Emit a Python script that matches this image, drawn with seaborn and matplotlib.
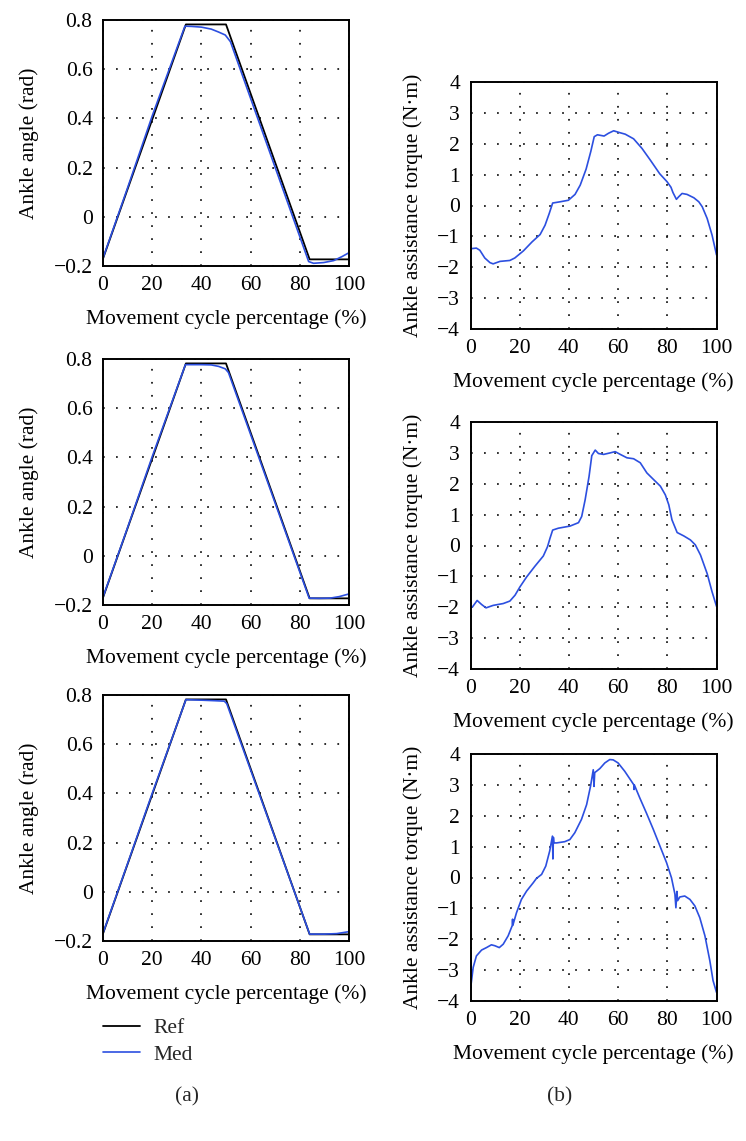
import numpy as np
import pandas as pd
import matplotlib
matplotlib.use("Agg")
import matplotlib.pyplot as plt
import seaborn as sns

# ---------------- data ----------------
x_ticks = [0, 20, 40, 60, 80, 100]
x_tick_labels = ["0", "20", "40", "60", "80", "100"]
angle_ticks = [-0.2, 0, 0.2, 0.4, 0.6, 0.8]
angle_tick_labels = ["\u22120.2", "0", "0.2", "0.4", "0.6", "0.8"]
torque_ticks = [-4, -3, -2, -1, 0, 1, 2, 3, 4]
torque_tick_labels = ["\u22124", "\u22123", "\u22122", "\u22121", "0", "1", "2", "3", "4"]

ref_x = [0, 33.7, 50, 84, 100]
ref_y = [-0.17, 0.782, 0.782, -0.173, -0.173]

med1_x = [0, 10, 20, 33.3, 36, 40, 44, 47, 49.7, 51.8, 83.6, 85.6, 89.7, 93.8, 97.1, 100]
med1_y = [-0.168, 0.118, 0.41, 0.775, 0.774, 0.771, 0.763, 0.751, 0.739, 0.712,
          -0.182, -0.189, -0.186, -0.178, -0.162, -0.146]

med2_x = [0, 10, 20, 33.5, 40, 44, 47, 49.7, 51, 83.8, 88, 92.4, 96, 100]
med2_y = [-0.168, 0.115, 0.403, 0.777, 0.777, 0.776, 0.77, 0.76, 0.745,
          -0.172, -0.173, -0.172, -0.166, -0.155]

med3_x = [0, 10, 20, 33.7, 40, 45, 49.3, 50.3, 84, 90, 95, 100]
med3_y = [-0.168, 0.115, 0.40, 0.781, 0.779, 0.777, 0.775, 0.765, -0.172, -0.172, -0.17, -0.162]

tq1_x = [0, 2.4, 3.8, 5.8, 7.9, 9.2, 12, 16, 18, 21.5, 25, 28.3, 30.3, 32, 33.4, 36.4,
         39.8, 42.5, 44.6, 47, 48.9, 50.3, 51.6, 54.3, 56.1, 58.2, 60.2, 62.9, 66.3,
         69.7, 73.1, 76.9, 79.9, 81.5, 82.3, 83.7, 84.6, 86, 88, 90.8, 92.8, 94.2,
         96.2, 98.2, 100]
tq1_y = [-1.40, -1.38, -1.45, -1.70, -1.85, -1.89, -1.81, -1.78, -1.70, -1.47, -1.18,
         -0.94, -0.64, -0.26, 0.08, 0.12, 0.17, 0.36, 0.66, 1.18, 1.75, 2.23, 2.29,
         2.25, 2.34, 2.42, 2.37, 2.31, 2.16, 1.85, 1.47, 1.03, 0.77, 0.59, 0.42, 0.20,
         0.28, 0.39, 0.36, 0.25, 0.12, -0.04, -0.42, -0.96, -1.60]

tq2_x = [0, 0.8, 2.7, 4.5, 6.3, 9.2, 13.3, 16, 18.1, 20.1, 22.8, 26.2, 29.6, 31.3,
         32.3, 33.4, 35.7, 40.5, 43.9, 45.2, 46.6, 48.2, 49.3, 50.7, 52, 54.1, 56.8,
         58.8, 60.9, 63.6, 66.3, 69, 71.7, 74.5, 77.2, 79.2, 80.6, 81.9, 84, 86.7,
         89.4, 91.4, 93.5, 96.2, 98.2, 100]
tq2_y = [-1.97, -1.99, -1.78, -1.91, -2.02, -1.94, -1.88, -1.80, -1.61, -1.34, -1.02,
         -0.67, -0.34, -0.04, 0.23, 0.50, 0.56, 0.63, 0.74, 0.94, 1.48, 2.24, 2.91,
         3.09, 2.98, 2.95, 3.00, 3.04, 2.95, 2.84, 2.81, 2.68, 2.35, 2.13, 1.92, 1.64,
         1.32, 0.83, 0.42, 0.31, 0.18, 0.02, -0.31, -0.91, -1.50, -1.97]

tq3_x = [0, 0.05, 0.1, 1.1, 2.4, 4.5, 6.5, 8.5, 9.9, 11.7, 13.3, 15.3, 17.0, 17.1, 17.2,
         18.7, 20.7, 22.8, 25.5, 26.8, 28.9, 30.6, 32.2, 33.3, 33.5, 33.7, 33.9, 35,
         38.3, 40.4, 42.4, 45.1, 47.2, 48.8, 49.9, 50.2, 50.5, 51.2, 52.6, 54.6,
         56.6, 58, 60, 62.7, 65.4, 66.4, 66.5, 66.6, 68.8, 71.5, 74.3, 77, 79.7,
         81.7, 83.1, 83.5, 83.9, 84.2, 85.1, 87.1, 89.2, 91.2, 93.2, 95.3, 97.3,
         98.6, 100]
tq3_y = [-3.67, -2.43, -3.55, -2.91, -2.54, -2.35, -2.27, -2.18, -2.21, -2.27, -2.16,
         -1.89, -1.55, -1.35, -1.55, -1.14, -0.71, -0.44, -0.17, -0.03, 0.10, 0.37,
         0.86, 1.34, 0.60, 1.30, 1.12, 1.12, 1.16, 1.23, 1.45, 1.88, 2.36, 2.96,
         3.49, 2.95, 3.40, 3.44, 3.53, 3.71, 3.82, 3.81, 3.71, 3.44, 3.12, 3.0,
         2.85, 3.0, 2.58, 2.09, 1.56, 1.02, 0.48, -0.01, -0.54, -0.98, -0.45,
         -0.75, -0.63, -0.60, -0.71, -0.92, -1.30, -1.89, -2.70, -3.34, -3.72]

panel_a_label = "(a)"
panel_b_label = "(b)"
xlabel_text = "Movement cycle percentage (%)"
angle_ylabel = "Ankle angle (rad)"
torque_ylabel = "Ankle assistance torque (N\u00b7m)"
series_names = ["Ref", "Med"]

# ---------------- style ----------------
sns.set_theme(style="white")
plt.rcParams["font.family"] = ["Liberation Serif", "DejaVu Serif"]
plt.rcParams["axes.unicode_minus"] = True

W, H = 746, 1141
fig = plt.figure(figsize=(W / 100, H / 100), dpi=100)

FS = 15.5
REF_C = "black"
MED_C = "#2c4fe0"


def add_ax(left, top, width, height):
    return fig.add_axes([left / W, 1 - (top + height) / H, width / W, height / H])


def style_ax(ax, yticks, ylabels, ylim, ylab, ylab_x):
    ax.set_xlim(0, 100)
    ax.set_ylim(*ylim)
    ax.set_xticks(x_ticks)
    ax.set_xticklabels(x_tick_labels)
    ax.set_yticks(yticks)
    ax.set_yticklabels(ylabels)
    ax.tick_params(axis="both", length=0, labelsize=FS, pad=7.5, colors="black")
    ax.grid(True, color="#111111", linestyle=(0, (1, 6.5)), linewidth=1.25)
    for s in ax.spines.values():
        s.set_visible(True)
        s.set_color("black")
        s.set_linewidth(1.4)
    ax.set_xlabel(xlabel_text, fontsize=FS, color="black")
    ax.set_ylabel(ylab, fontsize=FS, color="black")
    ax.xaxis.set_label_coords(0.5, -0.175)
    ax.xaxis.label.set_va("top")
    ax.yaxis.set_label_coords(ylab_x, 0.5)
    ax.set_facecolor("white")


left_tops = [20, 359, 695]
right_tops = [82, 422, 754]
meds = [(med1_x, med1_y), (med2_x, med2_y), (med3_x, med3_y)]
torques = [(tq1_x, tq1_y), (tq2_x, tq2_y), (tq3_x, tq3_y)]

last_left = None
for i in range(3):
    ax = add_ax(103, left_tops[i], 246, 246)
    sns.lineplot(x=ref_x, y=ref_y, ax=ax, color=REF_C, linewidth=1.3,
                 sort=False, estimator=None, label=series_names[0], legend=False)
    mx, my = meds[i]
    sns.lineplot(x=mx, y=my, ax=ax, color=MED_C, linewidth=1.2,
                 sort=False, estimator=None, label=series_names[1], legend=False)
    style_ax(ax, angle_ticks, angle_tick_labels, (-0.2, 0.8), angle_ylabel, -0.26)
    last_left = ax

    axr = add_ax(470.5, right_tops[i], 246, 247)
    tx, ty = torques[i]
    sns.lineplot(x=tx, y=ty, ax=axr, color=MED_C, linewidth=1.2,
                 sort=False, estimator=None, legend=False)
    style_ax(axr, torque_ticks, torque_tick_labels, (-4, 4), torque_ylabel, -0.195)

handles = last_left.get_lines()[:2]
fig.legend(handles, series_names, loc="upper left",
           bbox_to_anchor=(103 / W, 1 - 1018 / H), frameon=False,
           fontsize=FS, handlelength=1.7, handletextpad=0.65,
           labelspacing=0.3, borderpad=0, borderaxespad=0)

fig.text(187 / W, 1 - 1097 / H, panel_a_label, ha="center", va="center", fontsize=FS)
fig.text(560 / W, 1 - 1097 / H, panel_b_label, ha="center", va="center", fontsize=FS)

fig.savefig("out.png", dpi=100, facecolor="white")
